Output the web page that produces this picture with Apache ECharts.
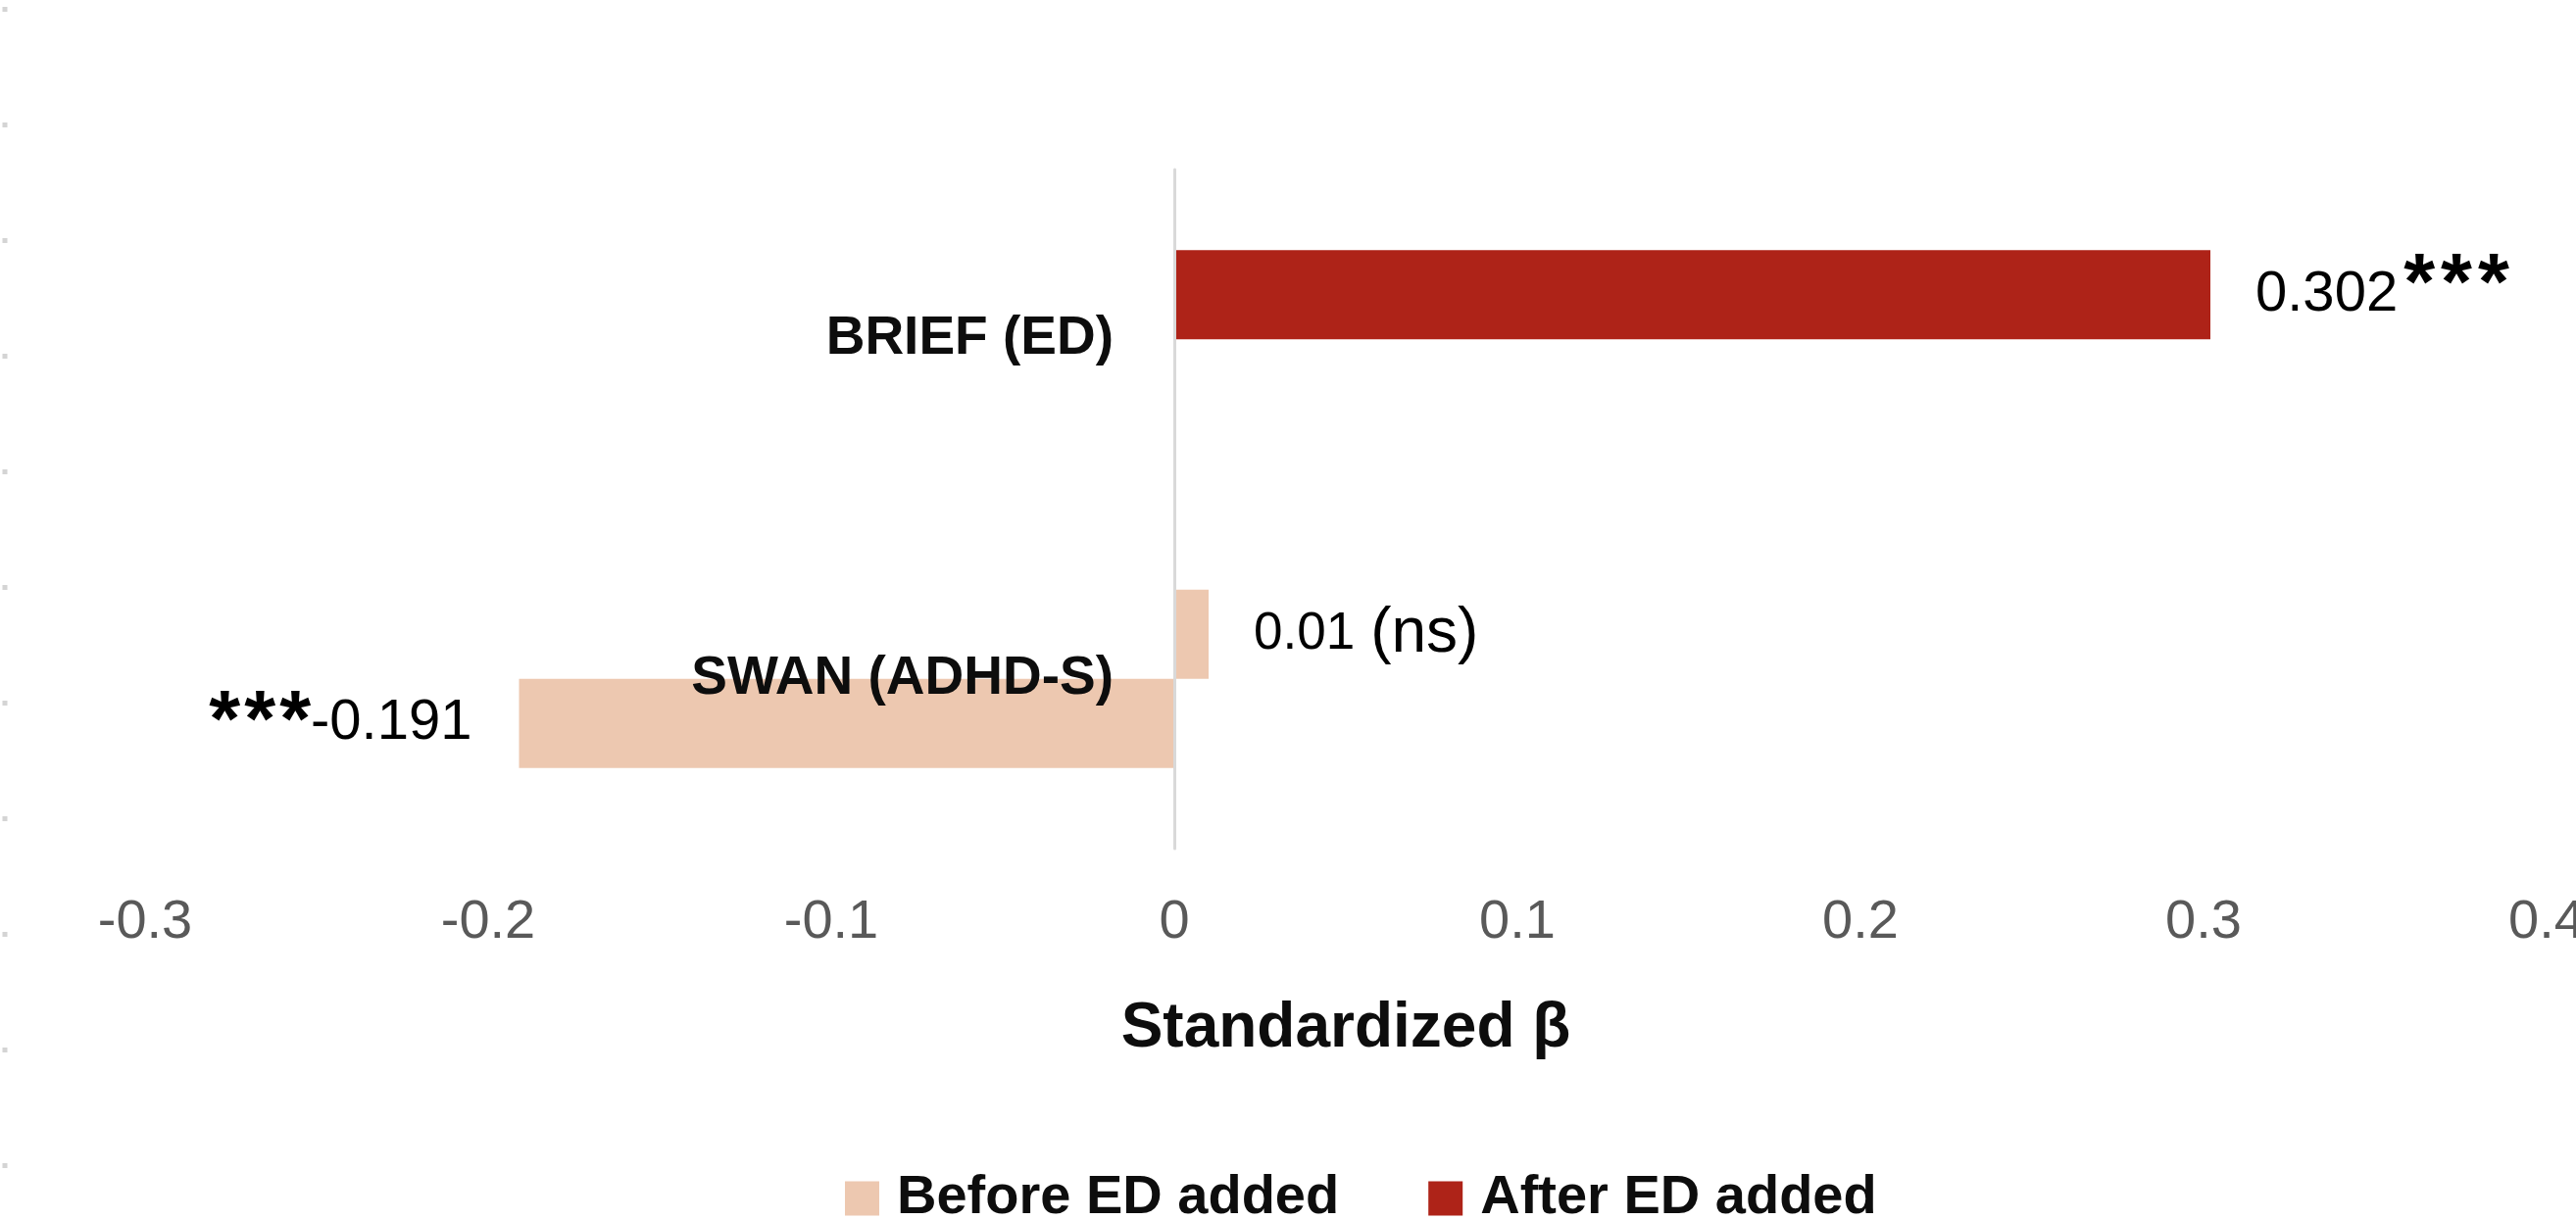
<!DOCTYPE html>
<html>
<head>
<meta charset="utf-8">
<script src="https://cdn.jsdelivr.net/npm/echarts@6/dist/echarts.min.js"></script>
<style>
html,body{margin:0;padding:0;background:#ffffff;}
#chart{width:2628px;height:1245px;}
</style>
</head>
<body>
<div id="chart"></div>
<script>
// ---- data ----
const categories = ['SWAN (ADHD-S)', 'BRIEF (ED)'];
const seriesNames = ['Before ED added', 'After ED added'];
const beforeED = [-0.191, null];
const afterED = [0.01, 0.302];
const sigBefore = ['***', ''];
const sigAfter = ['(ns)', '***'];
const xMin = -0.3, xMax = 0.4, xStep = 0.1;

// ---- styles / layout ----
const PEACH = '#EDC8B0';
const RED = '#AE2318';
const FONT = '"Liberation Sans", Arial, Helvetica, sans-serif';
const W = 2628, GRID_LEFT = 148, GRID_RIGHT = 30;
const gridWidth = W - GRID_LEFT - GRID_RIGHT;
// category labels sit next to the zero line (axis crosses at x = 0)
const zeroOffset = (0 - xMin) / (xMax - xMin) * gridWidth;
const catLabelMargin = 62 - zeroOffset;

const chart = echarts.init(document.getElementById('chart'), null, {renderer: 'canvas'});

const richLabel = {
  v: {fontSize: 58, color: '#000000', fontFamily: FONT},
  s: {fontSize: 82, fontWeight: 'bold', color: '#000000', fontFamily: FONT, padding: [0, 0, 0, 4]},
  sUp: {fontSize: 82, fontWeight: 'bold', color: '#000000', fontFamily: FONT, padding: [0, 0, 16, 6]},
  v2: {fontSize: 53, color: '#000000', fontFamily: FONT},
  ns: {fontSize: 64, color: '#000000', fontFamily: FONT, padding: [0, 0, 0, 16]}
};

function stars(str, token) {
  return str.split('').map(function (c) { return '{' + token + '|' + c + '}'; }).join('');
}
function afterLabel(p) {
  const val = afterED[p.dataIndex];
  const sig = sigAfter[p.dataIndex];
  if (val == null) return '';
  if (sig === '(ns)') return '{v2|' + val + '}{ns|' + sig + '}';
  return '{v|' + val.toFixed(3) + '}' + stars(sig, 'sUp');
}
function beforeLabel(p) {
  const val = beforeED[p.dataIndex];
  if (val == null) return '';
  return stars(sigBefore[p.dataIndex], 's') + '{v|' + val.toFixed(3) + '}';
}

const option = {
  backgroundColor: '#ffffff',
  animation: false,
  grid: {left: GRID_LEFT, right: GRID_RIGHT, top: 173, bottom: 379, containLabel: false, outerBoundsMode: 'none'},
  legend: {
    data: seriesNames,
    left: 857,
    top: 1190,
    itemWidth: 35,
    itemHeight: 35,
    itemGap: 91,
    icon: 'rect',
    textStyle: {fontSize: 56, fontWeight: 'bold', color: '#0d0d0d', fontFamily: FONT, padding: [0, 0, 0, 13]}
  },
  xAxis: {
    type: 'value',
    min: xMin,
    max: xMax,
    interval: xStep,
    axisLine: {show: false},
    axisTick: {show: false},
    splitLine: {show: false},
    axisLabel: {fontSize: 56, color: '#595959', fontFamily: FONT, margin: 48,
      formatter: function (v) { return String(Math.round(v * 10) / 10); }},
    name: 'Standardized β',
    nameLocation: 'middle',
    nameGap: 152,
    nameTextStyle: {fontSize: 64, fontWeight: 'bold', color: '#0d0d0d', fontFamily: FONT}
  },
  yAxis: {
    type: 'category',
    data: categories,
    z: 10,
    axisLine: {show: true, onZero: true, lineStyle: {color: '#d9d9d9', width: 3}},
    axisTick: {show: false},
    splitLine: {show: false},
    axisLabel: {fontSize: 55, fontWeight: 'bold', color: '#0d0d0d', fontFamily: FONT,
      margin: catLabelMargin, align: 'right'}
  },
  series: [
    {
      name: seriesNames[1],
      type: 'bar',
      barGap: '0%',
      barCategoryGap: '47.5%',
      itemStyle: {color: RED},
      data: afterED.map(function (v, i) {
        return {value: v, itemStyle: {color: i === 0 ? PEACH : RED}};
      }),
      label: {show: true, position: 'right', distance: 46, formatter: afterLabel, rich: richLabel}
    },
    {
      name: seriesNames[0],
      type: 'bar',
      barGap: '0%',
      barCategoryGap: '47.5%',
      itemStyle: {color: PEACH},
      data: beforeED,
      label: {show: true, position: 'left', distance: 48, formatter: beforeLabel, rich: richLabel}
    }
  ],
  graphic: [
    {type: 'line', silent: true, shape: {x1: 5, y1: 7, x2: 5, y2: 1245},
     style: {stroke: '#d4d4d4', lineWidth: 5, lineDash: [5, 113]}}
  ]
};

chart.setOption(option);
</script>
</body>
</html>
